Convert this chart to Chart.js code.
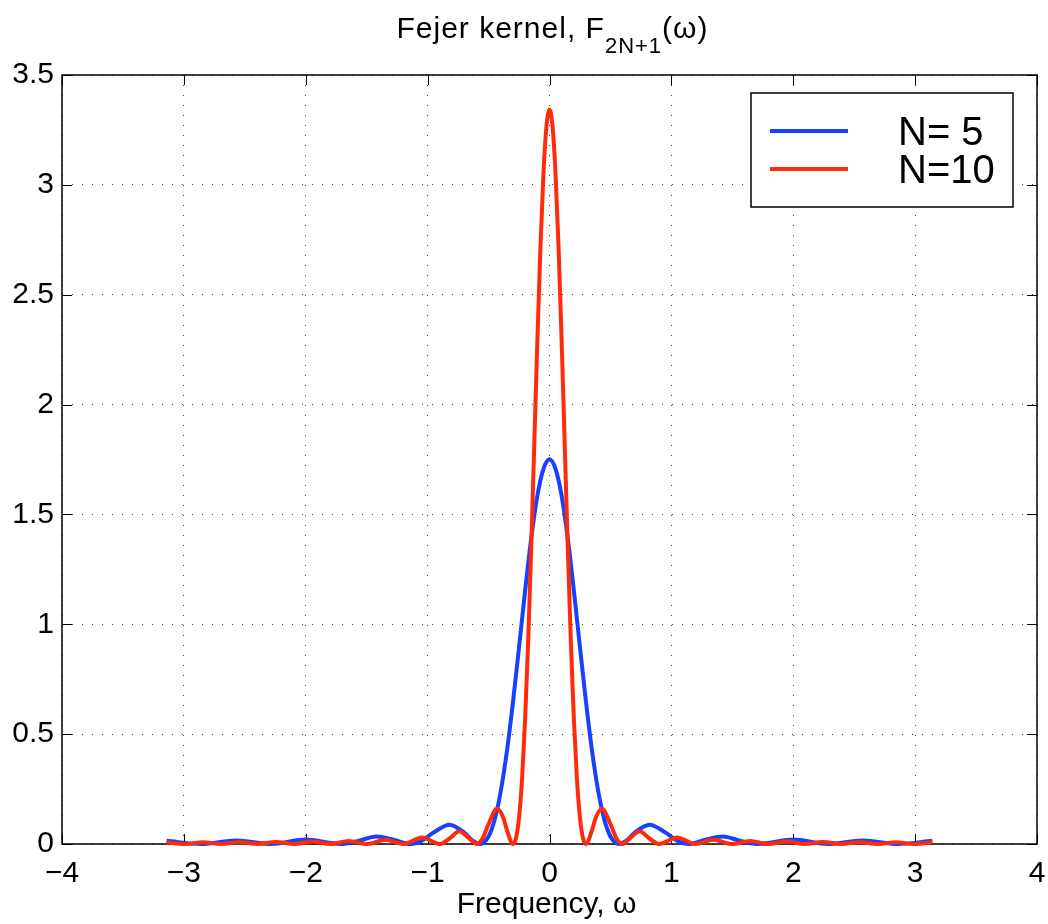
<!DOCTYPE html>
<html>
<head>
<meta charset="utf-8">
<title>Fejer kernel</title>
<script src="https://cdn.jsdelivr.net/npm/chart.js"></script>
<style>
  html, body { margin: 0; padding: 0; background: #fff; }
  canvas { display: block; }
</style>
</head>
<body>
<canvas id="fejer" width="1048" height="924"></canvas>
<script>
// values (omega in rad), zeros and lobe tops mostly
const n5Freq = [-3.1416, -2.856, -2.57, -2.285, -2.0, -1.714, -1.57, -1.42, -1.28, -1.142,
    -1.05, -0.95, -0.82, -0.7, -0.63, -0.571, -0.55, -0.5, -0.45, -0.4, -0.35, -0.3, -0.25,
    -0.2, -0.15, -0.1, -0.05, 0, 0.05, 0.1, 0.15, 0.2, 0.25, 0.3, 0.35, 0.4, 0.45, 0.5, 0.55,
    0.571, 0.63, 0.7, 0.82, 0.95, 1.05, 1.142, 1.28, 1.42, 1.57, 1.714, 2.0, 2.285, 2.57,
    2.856, 3.1416];
const n5Value = [0.0145, 0, 0.016, 0, 0.020, 0, 0.014, 0.034, 0.020, 0,
    0.014, 0.053, 0.088, 0.052, 0.015, 0, 0.003, 0.034, 0.111, 0.240, 0.420, 0.644, 0.895,
    1.153, 1.391, 1.583, 1.706, 1.751, 1.706, 1.583, 1.391, 1.153, 0.895, 0.644, 0.420, 0.240, 0.111, 0.034, 0.003,
    0, 0.015, 0.052, 0.088, 0.053, 0.014, 0, 0.020, 0.034, 0.014, 0, 0.020, 0, 0.016,
    0, 0.0145];

const n10Freq = [-3.1416, -2.992, -2.843, -2.693, -2.543, -2.394, -2.244, -2.094, -1.945, -1.795,
    -1.646, -1.496, -1.346, -1.197, -1.047, -0.898, -0.82, -0.74, -0.66, -0.598, -0.55, -0.5,
    -0.43, -0.38, -0.35, -0.299, -0.275, -0.25, -0.225, -0.2, -0.175, -0.15, -0.125, -0.1,
    -0.075, -0.05, -0.025, 0, 0.025, 0.05, 0.075, 0.1, 0.125, 0.15, 0.175, 0.2, 0.225, 0.25,
    0.275, 0.299, 0.35, 0.38, 0.43, 0.5, 0.55, 0.598, 0.66, 0.74, 0.82, 0.898, 1.047, 1.197,
    1.346, 1.496, 1.646, 1.795, 1.945, 2.094, 2.244, 2.394, 2.543, 2.693, 2.843, 2.992, 3.1416];
const n10Value = [0.0076, 0, 0.0078, 0, 0.0083, 0, 0.0093, 0, 0.0111, 0,
    0.0141, 0, 0.0195, 0, 0.030, 0, 0.025, 0.058, 0.026, 0, 0.025, 0.091,
    0.160, 0.121, 0.065, 0, 0.026, 0.119, 0.297, 0.567, 0.924, 1.350, 1.816, 2.283,
    2.706, 3.046, 3.266, 3.342, 3.266, 3.046, 2.706, 2.283, 1.816, 1.350, 0.924, 0.567, 0.297, 0.119,
    0.026, 0, 0.065, 0.121, 0.160, 0.091, 0.025, 0, 0.026, 0.058, 0.025, 0, 0.030, 0,
    0.0195, 0, 0.0141, 0, 0.0111, 0, 0.0093, 0, 0.0083, 0, 0.0078, 0, 0.0076];

const seriesLabels = ['N= 5', 'N=10'];
const seriesColors = ['#1740ff', '#ff2a0a'];
const titleParts = ['Fejer kernel, F', '2N+1', '(\u03c9)'];
const xLabel = 'Frequency, \u03c9';

const FONT = '"Liberation Sans", Arial, Helvetica, sans-serif';

function toPoints(xs, ys) {
    return xs.map((x, i) => ({ x: x, y: ys[i] }));
}

// box round the axes + inward ticks on all four sides
const framePlugin = {
    id: 'frame',
    beforeDatasetsDraw(chart) {
        const { ctx, chartArea: a, scales } = chart;
        ctx.save();
        ctx.strokeStyle = '#000';
        ctx.lineWidth = 1;
        ctx.beginPath();
        scales.x.ticks.forEach(t => {
            const px = Math.round(scales.x.getPixelForValue(t.value)) + 0.5;
            ctx.moveTo(px, a.bottom); ctx.lineTo(px, a.bottom - 10);
            ctx.moveTo(px, a.top); ctx.lineTo(px, a.top + 10);
        });
        scales.y.ticks.forEach(t => {
            const py = Math.round(scales.y.getPixelForValue(t.value)) + 0.5;
            ctx.moveTo(a.left, py); ctx.lineTo(a.left + 10, py);
            ctx.moveTo(a.right, py); ctx.lineTo(a.right - 10, py);
        });
        ctx.stroke();
        ctx.lineWidth = 1.5;
        ctx.strokeRect(a.left, a.top, a.right - a.left, a.bottom - a.top);
        ctx.restore();
    }
};

// title with subscript, x label, and the boxed legend
const textPlugin = {
    id: 'texts',
    afterDraw(chart) {
        const { ctx, chartArea: a } = chart;
        const cx = (a.left + a.right) / 2;
        ctx.save();
        ctx.fillStyle = '#000';
        ctx.textBaseline = 'alphabetic';
        ctx.textAlign = 'left';
        ctx.letterSpacing = '1px';

        ctx.font = '30px ' + FONT;
        const w1 = ctx.measureText(titleParts[0]).width;
        const w3 = ctx.measureText(titleParts[2]).width;
        ctx.font = '22px ' + FONT;
        const w2 = ctx.measureText(titleParts[1]).width;
        let tx = cx + 3 - (w1 + w2 + w3) / 2;
        ctx.font = '30px ' + FONT;
        ctx.fillText(titleParts[0], tx, 38);
        tx += w1;
        ctx.font = '22px ' + FONT;
        ctx.fillText(titleParts[1], tx, 53);
        tx += w2;
        ctx.font = '30px ' + FONT;
        ctx.fillText(titleParts[2], tx, 38);

        ctx.letterSpacing = '0px';
        ctx.textAlign = 'center';
        ctx.fillText(xLabel, cx - 3, 913);

        // legend
        const box = { l: 751, t: 93, r: 1013, b: 207 };
        ctx.fillStyle = '#fff';
        ctx.fillRect(box.l, box.t, box.r - box.l, box.b - box.t);
        ctx.strokeStyle = '#000';
        ctx.lineWidth = 1.5;
        ctx.strokeRect(box.l, box.t, box.r - box.l, box.b - box.t);
        ctx.textAlign = 'left';
        ctx.font = '40px ' + FONT;
        chart.data.datasets.forEach((ds, i) => {
            const ly = 131 + i * 38;
            ctx.strokeStyle = ds.borderColor;
            ctx.lineWidth = 4;
            ctx.beginPath();
            ctx.moveTo(770, ly);
            ctx.lineTo(848, ly);
            ctx.stroke();
            ctx.fillStyle = '#000';
            ctx.fillText(ds.label, 898, ly + 14);
        });
        ctx.restore();
    }
};

const tickFont = { family: FONT, size: 30 };

new Chart(document.getElementById('fejer'), {
    type: 'line',
    data: {
        datasets: [{
            label: seriesLabels[0],
            data: toPoints(n5Freq, n5Value),
            borderColor: seriesColors[0],
            borderWidth: 4,
            pointRadius: 0,
            cubicInterpolationMode: 'monotone',
            fill: false,
            clip: 5,
            order: 2
        }, {
            label: seriesLabels[1],
            data: toPoints(n10Freq, n10Value),
            borderColor: seriesColors[1],
            borderWidth: 4,
            pointRadius: 0,
            cubicInterpolationMode: 'monotone',
            fill: false,
            clip: 5,
            order: 1
        }]
    },
    options: {
        responsive: false,
        animation: false,
        events: [],
        layout: { padding: { top: 75, right: 11, left: 0, bottom: 0 } },
        plugins: {
            legend: { display: false },
            title: { display: false },
            tooltip: { enabled: false }
        },
        scales: {
            x: {
                type: 'linear',
                min: -4,
                max: 4,
                ticks: {
                    stepSize: 1,
                    autoSkip: false,
                    maxRotation: 0,
                    padding: 12,
                    color: '#000',
                    font: tickFont,
                    callback: v => String(v).replace('-', '\u2212')
                },
                grid: { color: '#444', lineWidth: 1, drawTicks: false },
                border: { display: false, dash: [1, 9] },
                afterFit: s => {
                    s.height = 80;
                    s.paddingLeft = 0;
                    s.paddingRight = 0;
                }
            },
            y: {
                type: 'linear',
                min: 0,
                max: 3.5,
                ticks: {
                    stepSize: 0.5,
                    padding: 8,
                    color: '#000',
                    font: tickFont,
                    callback: v => String(v)
                },
                grid: { color: '#444', lineWidth: 1, drawTicks: false },
                border: { display: false, dash: [1, 9] },
                afterFit: s => {
                    s.width = 62;
                    s.paddingTop = 0;
                    s.paddingBottom = 0;
                }
            }
        }
    },
    plugins: [framePlugin, textPlugin]
});
</script>
</body>
</html>
